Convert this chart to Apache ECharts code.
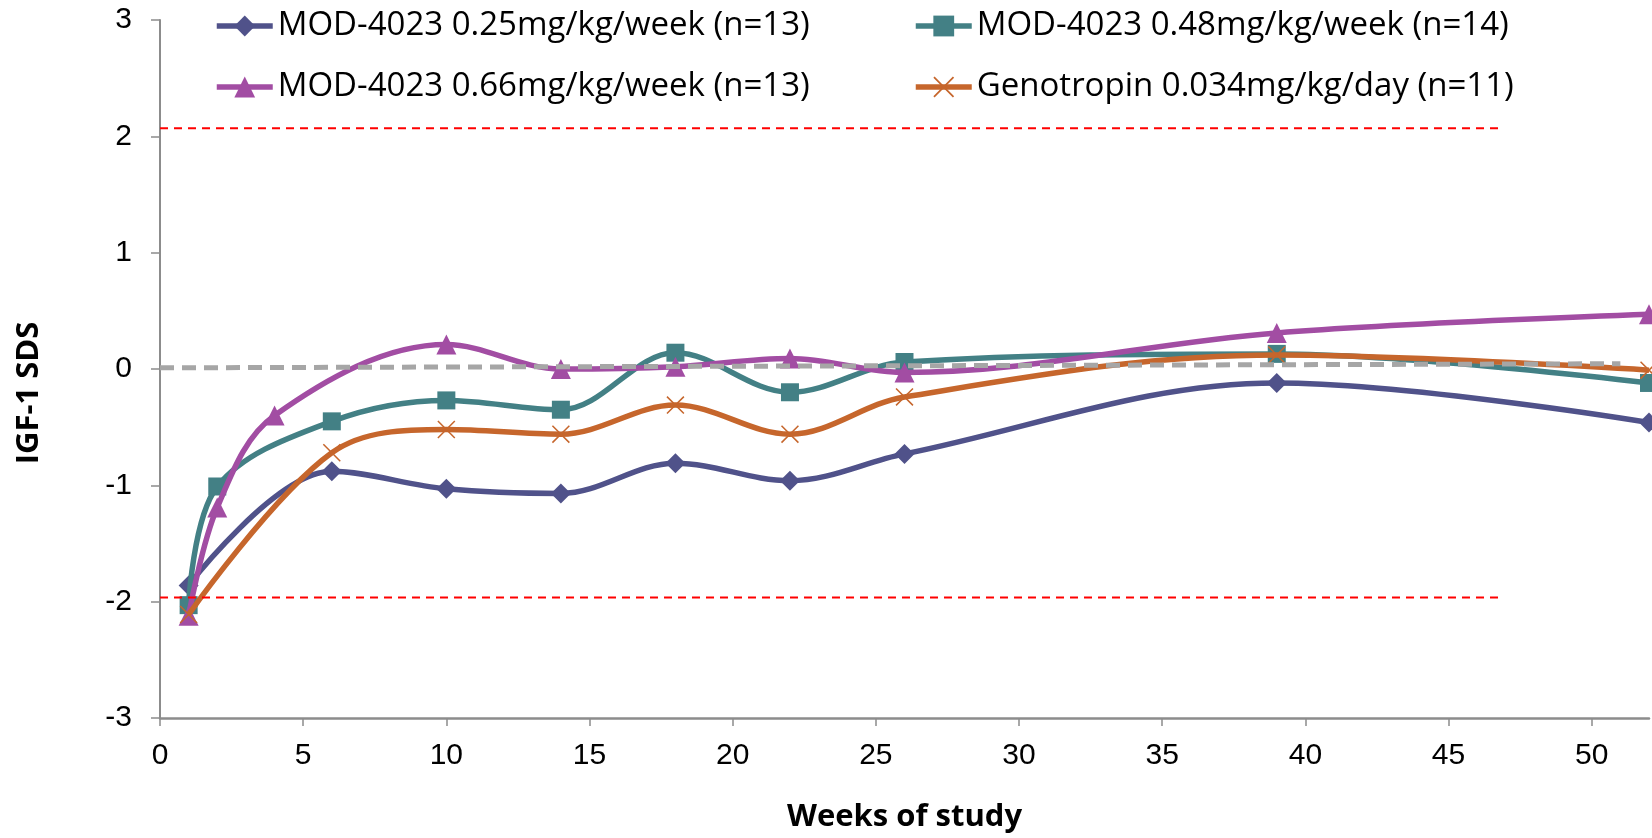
<!DOCTYPE html>
<html>
<head>
<meta charset="utf-8">
<script src="https://cdn.jsdelivr.net/npm/echarts@6/dist/echarts.min.js"></script>
<style>
html,body{margin:0;padding:0;background:#fff;}
#chart{width:1652px;height:838px;}
</style>
</head>
<body>
<div id="chart"></div>
<script>
// ---- data ----
const seriesNames = [
  'MOD-4023 0.25mg/kg/week (n=13)',
  'MOD-4023 0.48mg/kg/week (n=14)',
  'MOD-4023 0.66mg/kg/week (n=13)',
  'Genotropin 0.034mg/kg/day (n=11)'
];
const weeks025 = [1, 6, 10, 14, 18, 22, 26, 39, 52];
const vals025  = [-1.86, -0.88, -1.03, -1.07, -0.81, -0.96, -0.73, -0.12, -0.46];
const weeks048 = [1, 2, 6, 10, 14, 18, 22, 26, 39, 52];
const vals048  = [-2.03, -1.01, -0.45, -0.27, -0.35, 0.14, -0.20, 0.06, 0.13, -0.12];
const weeks066 = [1, 2, 4, 10, 14, 18, 22, 26, 39, 52];
const vals066  = [-2.12, -1.19, -0.40, 0.21, 0.00, 0.02, 0.09, -0.03, 0.31, 0.47];
const weeksGeno = [1, 6, 10, 14, 18, 22, 26, 39, 52];
const valsGeno  = [-2.11, -0.72, -0.52, -0.56, -0.31, -0.56, -0.24, 0.12, -0.01];
// reference lines
const upperWeeks = [0, 46.8];
const upperVals  = [2.07, 2.07];
const lowerWeeks = [0, 46.8];
const lowerVals  = [-1.965, -1.965];
const zeroWeeks  = [0, 51];
const zeroVals   = [0.01, 0.045];
// ticks
const xTicks = [0, 5, 10, 15, 20, 25, 30, 35, 40, 45, 50];

const colors = ['#50528A', '#438085', '#A24DA3', '#C6662C'];
const xSymbol = 'path://M0,1.2L1.2,0L20,18.8L18.8,20Z M18.8,0L20,1.2L1.2,20L0,18.8Z';

function pairs(xs, ys) { return xs.map((x, i) => [x, ys[i]]); }

const chart = echarts.init(document.getElementById('chart'), null, {renderer: 'canvas'});

function mkSeries(i, xs, ys, symbol, size) {
  return {
    name: seriesNames[i],
    type: 'line',
    data: pairs(xs, ys),
    smooth: 0.35,
    symbol: symbol,
    symbolSize: size,
    showAllSymbol: true,
    lineStyle: {color: colors[i], width: 5.5},
    itemStyle: {color: colors[i]},
    z: 2 + i,
    animation: false
  };
}

function refLine(xs, ys, color, width, dash) {
  return {
    type: 'line',
    data: pairs(xs, ys),
    symbol: 'none',
    lineStyle: {color: color, width: width, type: dash},
    silent: true,
    z: 10,
    animation: false
  };
}

const legendText = {fontFamily: 'Open Sans', fontSize: 33, color: '#000', lineHeight: 34};
function mkLegend(i, left, top) {
  return {
    data: [seriesNames[i]],
    left: left, top: top,
    itemWidth: 56, itemHeight: 26, itemGap: 0,
    padding: 0,
    lineStyle: {width: 5.5},
    textStyle: legendText
  };
}

const option = {
  backgroundColor: '#fff',
  animation: false,
  legend: [
    mkLegend(0, 214, 9),
    mkLegend(1, 913, 9),
    mkLegend(2, 214, 70),
    mkLegend(3, 913, 70)
  ],
  grid: {left: 160, right: 3, top: 20, bottom: 120, containLabel: false},
  xAxis: {
    type: 'value',
    min: 0, max: 52, interval: 5,
    name: 'Weeks of study',
    nameLocation: 'middle',
    nameGap: 84,
    nameTextStyle: {fontFamily: 'Open Sans', fontWeight: 'bold', fontSize: 31, color: '#000'},
    axisLine: {show: true, onZero: false, lineStyle: {color: '#8C8C8C', width: 2.5}},
    axisTick: {show: true, length: 8, lineStyle: {color: '#8C8C8C', width: 1.5}, customValues: xTicks},
    axisLabel: {fontFamily: 'Liberation Sans', fontSize: 30, color: '#000', margin: 23, customValues: xTicks},
    splitLine: {show: false}
  },
  yAxis: {
    type: 'value',
    min: -3, max: 3, interval: 1,
    name: 'IGF-1 SDS',
    nameLocation: 'middle',
    nameGap: 115,
    nameTextStyle: {fontFamily: 'Open Sans', fontWeight: 'bold', fontSize: 31, color: '#000', padding: [0, 48, 0, 0]},
    axisLine: {show: true, lineStyle: {color: '#8C8C8C', width: 2}},
    axisTick: {show: true, length: 9, lineStyle: {color: '#8C8C8C', width: 1.5}},
    axisLabel: {fontFamily: 'Liberation Sans', fontSize: 30, color: '#000', margin: 28},
    splitLine: {show: false}
  },
  series: [
    mkSeries(0, weeks025, vals025, 'diamond', 20),
    mkSeries(1, weeks048, vals048, 'rect', 18),
    mkSeries(2, weeks066, vals066, 'triangle', 20),
    mkSeries(3, weeksGeno, valsGeno, xSymbol, 18),
    refLine(upperWeeks, upperVals, '#FF0000', 2, [8, 6]),
    refLine(lowerWeeks, lowerVals, '#FF0000', 2, [8, 6]),
    refLine(zeroWeeks, zeroVals, '#A6A6A6', 5, [14, 8])
  ]
};
chart.setOption(option);
</script>
</body>
</html>
